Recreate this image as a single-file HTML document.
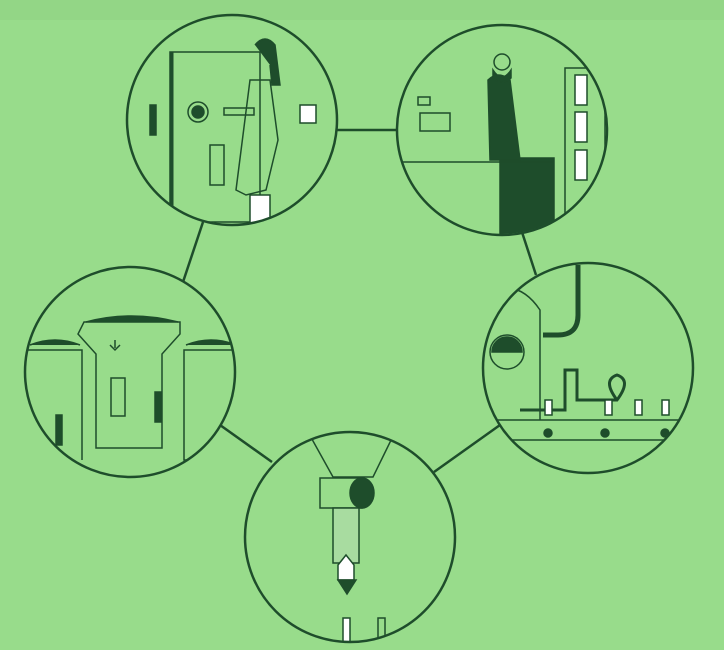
<!DOCTYPE html>
<html><head><meta charset="utf-8"><style>
html,body{margin:0;padding:0;background:#98dc8b;}
svg{display:block}
</style></head><body>
<svg width="724" height="650" viewBox="0 0 724 650" xmlns="http://www.w3.org/2000/svg">
<defs>
<clipPath id="c1"><circle cx="232" cy="120" r="104"/></clipPath>
<clipPath id="c2"><circle cx="502" cy="130" r="104"/></clipPath>
<clipPath id="c3"><circle cx="130" cy="372" r="104"/></clipPath>
<clipPath id="c4"><circle cx="588" cy="368" r="104"/></clipPath>
<clipPath id="c5"><circle cx="350" cy="537" r="104"/></clipPath>
</defs>
<rect width="724" height="650" fill="#98dc8b"/>
<rect width="724" height="20" fill="#8fd283" opacity="0.6"/>
<g stroke="#1e4d2b" stroke-width="2.5" fill="none">
<line x1="336" y1="130" x2="398" y2="130"/>
<line x1="203" y1="222" x2="183" y2="282"/>
<line x1="520" y1="226" x2="536" y2="275"/>
<line x1="220" y1="425" x2="272" y2="462"/>
<line x1="500" y1="425" x2="434" y2="472"/>
</g>
<g stroke="#1e4d2b" stroke-width="1.5" fill="none">
<!-- circle 1 -->
<g clip-path="url(#c1)">
<rect x="170" y="52" width="90" height="170"/>
<line x1="172" y1="52" x2="172" y2="222" stroke-width="3"/>
<circle cx="198" cy="112" r="10"/><circle cx="198" cy="112" r="6" fill="#1e4d2b"/>
<rect x="224" y="108" width="30" height="7"/>
<rect x="210" y="145" width="14" height="40"/>
<rect x="150" y="105" width="6" height="30" fill="#1e4d2b"/>
<path d="M255 45 q10-12 20 0 l5 40 l-8 0 l-2 -20" fill="#1e4d2b"/>
<path d="M250 80 l20 0 l8 60 l-12 50 l-20 5 l-10-5 z"/>
<rect x="300" y="105" width="16" height="18" fill="#fff"/>
<rect x="250" y="195" width="20" height="30" fill="#fff"/>
</g>
<circle cx="232" cy="120" r="105" stroke-width="2.5"/>
<!-- circle 2 -->
<g clip-path="url(#c2)">
<rect x="500" y="158" width="54" height="80" fill="#1e4d2b"/>
<line x1="398" y1="162" x2="554" y2="162"/>
<rect x="420" y="113" width="30" height="18"/>
<rect x="418" y="97" width="12" height="8"/>
<path d="M488 80 q10-10 22 0 l10 80 l-30 0 z" fill="#1e4d2b"/>
<circle cx="502" cy="62" r="8"/>
<path d="M493 70 q9 14 18 0 v8 q-9 8-18 0z" fill="#1e4d2b"/>
<rect x="565" y="68" width="40" height="160"/>
<rect x="575" y="75" width="12" height="30" fill="#fff"/>
<rect x="575" y="112" width="12" height="30" fill="#fff"/>
<rect x="575" y="150" width="12" height="30" fill="#fff"/>
</g>
<circle cx="502" cy="130" r="105" stroke-width="2.5"/>
<!-- circle 3 -->
<g clip-path="url(#c3)">
<path d="M84 322 h96 v12 l-18 20 v94 h-66 v-94 l-18-20z"/>
<path d="M86 322 q45-12 92 0" fill="#1e4d2b"/>
<path d="M30 345 q25-10 50 0" fill="#1e4d2b"/>
<path d="M186 345 q25-10 50 0" fill="#1e4d2b"/>
<rect x="111" y="378" width="14" height="38"/>
<rect x="155" y="392" width="6" height="30" fill="#1e4d2b"/>
<rect x="56" y="415" width="6" height="30" fill="#1e4d2b"/>
<rect x="184" y="350" width="60" height="110"/>
<path d="M26 350 h56 v110"/>
<path d="M115 340 v8 m-5-3 l5 5 l5-5"/>
</g>
<circle cx="130" cy="372" r="105" stroke-width="2.5"/>
<!-- circle 4 -->
<g clip-path="url(#c4)">
<line x1="483" y1="420" x2="693" y2="420"/>
<line x1="483" y1="440" x2="693" y2="440"/>
<circle cx="548" cy="433" r="4" fill="#1e4d2b"/><circle cx="605" cy="433" r="4" fill="#1e4d2b"/><circle cx="665" cy="433" r="4" fill="#1e4d2b"/>
<circle cx="507" cy="352" r="17"/>
<path d="M492 352 a15 15 0 0 1 30 0 z" fill="#1e4d2b"/>
<path d="M490 290 q30-10 50 20 v110"/>
<path d="M578 265 v50 q0 20 -20 20 h-15" stroke-width="5"/>
<path d="M520 410 h45 v-40 h12 v30 h40 q15 -20 0-25 q-15 5 0 25" stroke-width="3"/>
<rect x="545" y="400" width="7" height="15" fill="#fff"/>
<rect x="605" y="400" width="7" height="15" fill="#fff"/>
<rect x="635" y="400" width="7" height="15" fill="#fff"/>
<rect x="662" y="400" width="7" height="15" fill="#fff"/>
</g>
<circle cx="588" cy="368" r="105" stroke-width="2.5"/>
<!-- circle 5 -->
<g clip-path="url(#c5)">
<path d="M308 432 l25 45 h40 l22-45"/>
<rect x="320" y="478" width="42" height="30"/>
<ellipse cx="362" cy="493" rx="12" ry="15" fill="#1e4d2b"/>
<rect x="333" y="508" width="26" height="55" fill="#a8dca0"/>
<path d="M338 565 l8-10 l8 10 v15 h-16z" fill="#fff"/>
<path d="M338 580 h18 l-9 14z" fill="#1e4d2b"/>
<rect x="343" y="618" width="7" height="30" fill="#fff"/>
<rect x="378" y="618" width="7" height="30"/>
</g>
<circle cx="350" cy="537" r="105" stroke-width="2.5"/>
</g>
</svg>
</body></html>
